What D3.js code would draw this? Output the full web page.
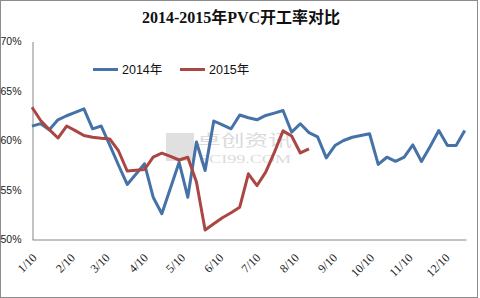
<!DOCTYPE html>
<html lang="zh">
<head>
  <meta charset="UTF-8">
  <title>2014-2015年PVC开工率对比</title>
  <script src="https://d3js.org/d3.v7.min.js"></script>
  <style>
    body { margin: 0; background: #fff; }
    svg { display: block; }
  </style>
</head>
<body>
  <div id="chart"></div>

  <script>
    // weekly dates (2014 calendar), both years plotted on the same axis
    const weeks = [
      "2014-01-10","2014-01-17","2014-01-24","2014-01-31",
      "2014-02-07","2014-02-14","2014-02-21","2014-02-28",
      "2014-03-07","2014-03-14","2014-03-21","2014-03-28",
      "2014-04-04","2014-04-11","2014-04-18","2014-04-25",
      "2014-05-02","2014-05-09","2014-05-16","2014-05-23","2014-05-30",
      "2014-06-06","2014-06-13","2014-06-20","2014-06-27",
      "2014-07-04","2014-07-11","2014-07-18","2014-07-25",
      "2014-08-01","2014-08-08","2014-08-15","2014-08-22","2014-08-29",
      "2014-09-05","2014-09-12","2014-09-19","2014-09-26",
      "2014-10-03","2014-10-10","2014-10-17","2014-10-24","2014-10-31",
      "2014-11-07","2014-11-14","2014-11-21","2014-11-28",
      "2014-12-05","2014-12-12","2014-12-19","2014-12-26"
    ];

    // 开工率 %
    const rate2014 = [
      61.45, 61.7, 61.08, 62.09, 62.5, 62.85, 63.2, 61.18, 61.46, 59.5,
      57.5, 55.56, 56.6, 57.65, 54.27, 52.6, 55.2, 57.8, 54.27, 59.85,
      56.97, 61.97, 61.58, 61.18, 62.58, 62.3, 62.09, 62.53, 62.77, 63.03,
      60.84, 61.69, 60.8, 60.37, 58.25, 59.49, 60.0, 60.33, 60.5, 60.68,
      57.58, 58.31, 57.9, 58.31, 59.55, 57.88, 59.4, 61.01, 59.49, 59.49,
      61.01
    ];
    const rate2015 = [
      63.36, 62.02, 61.1, 60.25, 61.46, 61.0, 60.5, 60.33, 60.22, 60.15,
      58.94, 56.92, 57.0, 57.07, 58.33, 58.72, 58.4, 58.03, 58.31, 55.8,
      50.96, 51.59, 52.2, 52.7, 53.26, 56.64, 55.45, 56.8, 58.8, 60.97,
      60.45, 58.74, 59.16
    ];

    const monthTicks = ["2014-01-10","2014-02-10","2014-03-10","2014-04-10","2014-05-10","2014-06-10",
                        "2014-07-10","2014-08-10","2014-09-10","2014-10-10","2014-11-10","2014-12-10"];
    const yTicks = [50, 55, 60, 65, 70];

    const seriesNames = ["2014年", "2015年"];
    const colors = ["#4572A7", "#AA4643"];

    const ancho = 480, alto = 298;
    const parse = d3.timeParse("%Y-%m-%d");

    const svg = d3.select("#chart").append("svg")
      .attr("width", ancho)
      .attr("height", alto);

    // outer frame
    svg.append("rect")
      .attr("x", 0.5).attr("y", 0.5)
      .attr("width", 477).attr("height", 297)
      .attr("fill", "#fff")
      .attr("stroke", "#8c8c8c");

    const x = d3.scaleTime()
      .domain([parse("2014-01-10"), parse("2014-12-27")])
      .range([32, 466]);

    const y = d3.scaleLinear()
      .domain([50, 70])
      .range([239.5, 41.5]);

    // title
    svg.append("text")
      .attr("x", 241).attr("y", 23)
      .attr("text-anchor", "middle")
      .attr("font-family", "'Liberation Serif', 'Noto Sans CJK SC', serif")
      .attr("font-weight", "bold")
      .attr("font-size", 16)
      .attr("fill", "#111")
      .text("2014-2015年PVC开工率对比");

    // watermark
    const wm = svg.append("g").attr("opacity", 0.3);
    wm.append("rect").attr("x", 166).attr("y", 133).attr("width", 28).attr("height", 28).attr("fill", "#9a9a9a");
    wm.append("text")
      .attr("x", 197).attr("y", 146)
      .attr("font-family", "'Noto Sans CJK SC', sans-serif")
      .attr("font-size", 16)
      .attr("fill", "#8a8a8a")
      .attr("textLength", 95)
      .attr("lengthAdjust", "spacingAndGlyphs")
      .text("卓创资讯");
    wm.append("text")
      .attr("x", 199).attr("y", 163)
      .attr("font-family", "'Liberation Serif', serif")
      .attr("font-size", 12)
      .attr("fill", "#8a8a8a")
      .attr("textLength", 92)
      .attr("lengthAdjust", "spacingAndGlyphs")
      .text("SCI99.COM");

    // y axis
    const ejeY = svg.append("g")
      .attr("transform", "translate(32.5,0)")
      .call(d3.axisLeft(y).tickValues(yTicks).tickSize(0).tickPadding(11).tickFormat(d => d + "%"));
    ejeY.select(".domain").attr("stroke", "#868686");
    ejeY.selectAll("text")
      .attr("font-family", "'Liberation Sans', sans-serif")
      .attr("font-size", 10.5)
      .attr("fill", "#222");

    // x axis
    const ejeX = svg.append("g")
      .attr("transform", "translate(0,239.5)")
      .call(d3.axisBottom(x).tickValues(monthTicks.map(parse)).tickSize(0)
        .tickFormat(d => (d.getMonth() + 1) + "/" + d.getDate()));
    ejeX.select(".domain").attr("stroke", "#868686");
    ejeX.selectAll("text")
      .attr("font-family", "'Liberation Serif', serif")
      .attr("font-size", 12)
      .attr("fill", "#222")
      .attr("text-anchor", "end")
      .attr("dy", null)
      .attr("y", null)
      .attr("transform", "translate(5,19) rotate(-45)");

    // lines
    const linea = d3.line()
      .x((d, i) => x(parse(weeks[i])))
      .y(d => y(d));

    [rate2014, rate2015].forEach((serie, k) => {
      svg.append("path")
        .datum(serie)
        .attr("fill", "none")
        .attr("stroke", colors[k])
        .attr("stroke-width", 3)
        .attr("stroke-linejoin", "round")
        .attr("d", linea);
    });

    // legend
    const leyenda = svg.append("g");
    const legendX = [93, 180];
    seriesNames.forEach((n, k) => {
      leyenda.append("line")
        .attr("x1", legendX[k]).attr("x2", legendX[k] + 25)
        .attr("y1", 69.5).attr("y2", 69.5)
        .attr("stroke", colors[k])
        .attr("stroke-width", 3);
      leyenda.append("text")
        .attr("x", legendX[k] + 29).attr("y", 74)
        .attr("font-family", "'Liberation Sans', 'Noto Sans CJK SC', sans-serif")
        .attr("font-size", 12.5)
        .attr("fill", "#111")
        .text(n);
    });
  </script>
</body>
</html>
